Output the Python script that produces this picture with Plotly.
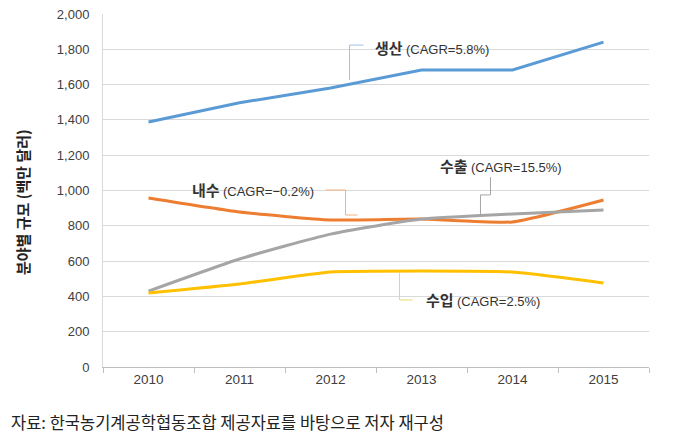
import plotly.graph_objects as go

years = ["2010", "2011", "2012", "2013", "2014", "2015"]
production = [1388, 1497, 1581, 1683, 1683, 1841]
domestic = [957, 878, 833, 838, 822, 946]
export = [430, 612, 753, 838, 867, 890]
imports = [419, 470, 538, 544, 538, 476]

y_ticks = [0, 200, 400, 600, 800, 1000, 1200, 1400, 1600, 1800, 2000]
y_ticktext = ["0", "200", "400", "600", "800", "1,000", "1,200", "1,400", "1,600", "1,800", "2,000"]

c_prod = "#5B9BD5"
c_dom = "#ED7D31"
c_exp = "#A5A5A5"
c_imp = "#FFC000"

OFF = 8  # page body margin
W, H = 677 - OFF, 438 - OFF
L, T = 103 - OFF, 14 - OFF
R = W - (649 - OFF)
B = H - (367 - OFF)
PW, PH = W - L - R, H - T - B

def px(x):
    return (x - OFF - L) / PW

def py(y):
    return (H - B - (y - OFF)) / PH

fig = go.Figure()
fig.add_trace(go.Scatter(x=years, y=production, mode="lines", line=dict(color=c_prod, width=3), hoverinfo="skip"))
fig.add_trace(go.Scatter(x=years, y=domestic, mode="lines", line=dict(color=c_dom, width=3, shape="spline", smoothing=0.5), hoverinfo="skip"))
fig.add_trace(go.Scatter(x=years, y=export, mode="lines", line=dict(color=c_exp, width=3, shape="spline", smoothing=0.5), hoverinfo="skip"))
fig.add_trace(go.Scatter(x=years, y=imports, mode="lines", line=dict(color=c_imp, width=3, shape="spline", smoothing=0.5), hoverinfo="skip"))

def leader(xs, ys, color):
    path = "M " + " L ".join(f"{x},{y}" for x, y in zip(xs, ys))
    fig.add_shape(type="path", path=path, xref="x", yref="y",
                  line=dict(color=color, width=1))

leader([2.209, 2.209, 2.363], [1626, 1824, 1824], "#9DC3E6")
leader([1.945, 2.165, 2.165, 2.297], [1003, 1003, 861, 861], "#F4B183")
leader([3.758, 3.758, 3.648, 3.648], [1076, 975, 975, 861], "#A5A5A5")
leader([2.758, 2.758, 2.901], [533, 380, 380], "#E6D96B")

def label(x, y, main, sub, anchor):
    fig.add_annotation(x=x, y=y, xref="x", yref="y", xanchor=anchor, yanchor="middle",
                       text=f"<b>{main}</b> <span style='font-size:13px;font-family:Liberation Sans, Arial'>{sub}</span>",
                       showarrow=False, font=dict(size=15, color="#333333", family="Noto Sans CJK KR"))

label(2.47, 1813, "생산", "(CAGR=5.8%)", "left")
label(1.846, 1003, "내수", "(CAGR=−0.2%)", "right")
label(3.87, 1139, "수출", "(CAGR=15.5%)", "center")
label(3.022, 380, "수입", "(CAGR=2.5%)", "left")

fig.add_annotation(x=px(9), y=py(422), xref="paper", yref="paper",
                   text="자료: 한국농기계공학협동조합 제공자료를 바탕으로 저자 재구성",
                   showarrow=False, xanchor="left", yanchor="middle",
                   font=dict(size=16.5, color="#222222", family="Noto Sans CJK KR"))

fig.add_annotation(x=px(22), y=py(202), xref="paper", yref="paper",
                   text="<b>분야별 규모 (백만 달러)</b>", textangle=-90,
                   showarrow=False, xanchor="center", yanchor="middle",
                   font=dict(size=15, color="#222222", family="Noto Sans CJK KR"))

fig.update_layout(
    width=W, height=H,
    margin=dict(l=L, r=R, t=T, b=B, autoexpand=False),
    paper_bgcolor="white", plot_bgcolor="white",
    showlegend=False,
    font=dict(family="Liberation Sans, Arial", size=13, color="#404040"),
    xaxis=dict(type="category", tickson="boundaries", ticks="outside", ticklen=5,
               tickcolor="#BFBFBF", showline=True, linecolor="#BFBFBF", linewidth=1,
               showgrid=False, tickfont=dict(size=13.5, color="#404040"),
               range=[-0.5, 5.5], automargin=False),
    yaxis=dict(range=[0, 2000], tickvals=y_ticks, ticktext=y_ticktext,
               showgrid=True, gridcolor="#D9D9D9", gridwidth=1,
               showline=True, linecolor="#D9D9D9", zeroline=False,
               tickfont=dict(size=13, color="#404040"), ticks="", ticklabelstandoff=10,
               ticklabeloverflow="allow", automargin=False),
)

fig.write_html("out.html")
